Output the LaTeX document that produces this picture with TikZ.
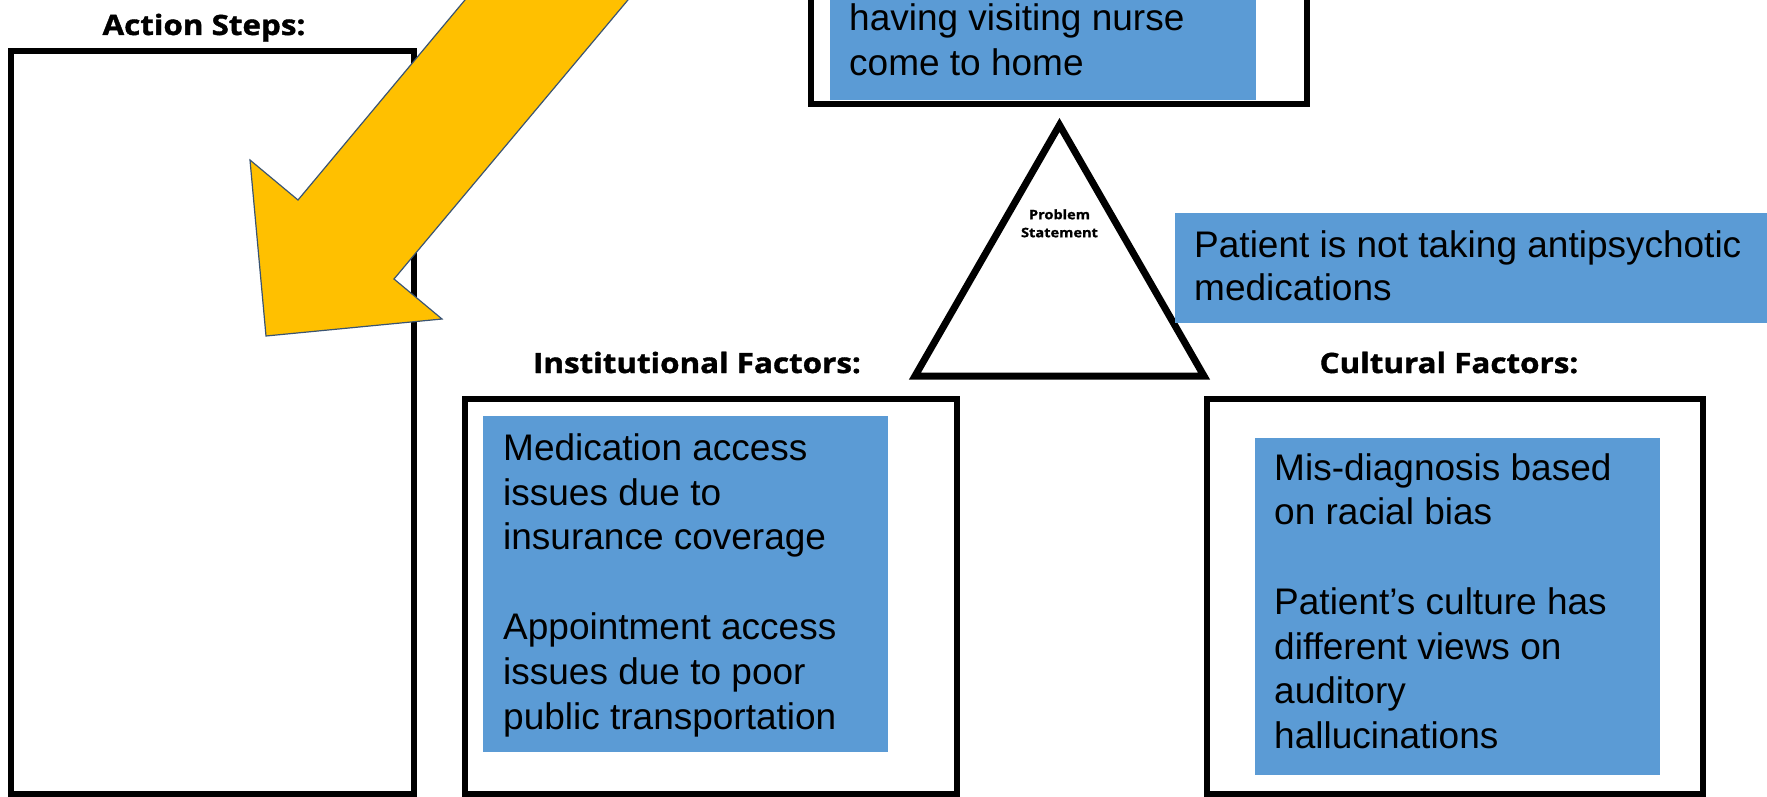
\documentclass[tikz,border=0pt]{standalone}
\usepackage{fontspec}
\setmainfont{Liberation Sans}
\newfontfamily\labelfont[FakeStretch=1.12,BoldFeatures={FakeBold=1.3}]{Open Sans}
\definecolor{cardblue}{RGB}{91,155,213}
\definecolor{arrowgold}{RGB}{255,192,0}
\definecolor{arrowedge}{RGB}{58,84,115}

\begin{document}
\begin{tikzpicture}[x=1pt,y=-1pt,
  frame/.style={draw=black,line width=5.5pt,inner sep=0pt,outer sep=0pt},
  card/.style={fill=cardblue,inner sep=0pt,outer sep=0pt},
  cardtext/.style={anchor=north west,inner sep=0pt,align=left},
  heading/.style={anchor=base,inner sep=0pt,font=\labelfont\bfseries\fontsize{28}{32}\selectfont},
]
\useasboundingbox (0,0) rectangle (1767,797);
\fill[white] (0,0) rectangle (1767,797);

% outlined boxes
\node (actframe)  [frame,minimum width=403,minimum height=743] at (212.5,422.5) {};
\node (instframe) [frame,minimum width=492,minimum height=395] at (711,596.5) {};
\node (cultframe) [frame,minimum width=496,minimum height=395] at (1455,596.5) {};
\node (topframe)  [frame,minimum width=496,minimum height=204] at (1059,2) {};

% blue text cards
\node (topcard)  [card,minimum width=426,minimum height=160] at (1043,20) {};
\node (instcard) [card,minimum width=405,minimum height=336] at (685.5,584) {};
\node (cultcard) [card,minimum width=405,minimum height=337] at (1457.5,606.5) {};

\node (toptext) [cardtext,font=\fontsize{37}{45}\selectfont] at (849,0)
  {\rule{0pt}{30pt}having visiting nurse\\come to home};
\node (insttext) [cardtext,font=\fontsize{37}{44.8}\selectfont] at (503,430)
  {\rule{0pt}{30pt}Medication access\\issues due to\\insurance coverage\\[44.8pt]
   Appointment access\\issues due to poor\\public transportation};
\node (culttext) [cardtext,font=\fontsize{37}{44.7}\selectfont] at (1274,450)
  {\rule{0pt}{30pt}Mis-diagnosis based\\on racial bias\\[44.7pt]
   Patient’s culture has\\different views on\\auditory\\hallucinations};

% problem triangle
\coordinate (apex)  at (1059.5,125);
\coordinate (baseR) at (1204,376);
\coordinate (baseL) at (915,376);
\draw[line width=7pt,line join=miter] (apex) -- (baseR) -- (baseL) -- cycle;
\node (probtext) [anchor=north,inner sep=0pt,align=center,
  font=\labelfont\bfseries\fontsize{13}{18}\selectfont] at (1059.5,209)
  {\rule{0pt}{10pt}Problem\\Statement};

% problem statement card
\node (probcard) [card,minimum width=605,minimum height=110] at (1477.5,268) {};
\node (probcardtext) [cardtext,font=\fontsize{37}{43}\selectfont] at (1194,227)
  {\rule{0pt}{30pt}Patient is not taking antipsychotic\\medications};

% headings
\node (acthead)  [heading] at (204,35)  {Action Steps:};
\node (insthead) [heading] at (697,373) {Institutional Factors:};
\node (culthead) [heading] at (1449,373) {Cultural Factors:};

% pointer arrow
\coordinate (shaftL) at (473.3,-10);
\coordinate (neckL)  at (298,200);
\coordinate (barbL)  at (250,160);
\coordinate (tip)    at (266,336);
\coordinate (barbR)  at (442,319);
\coordinate (neckR)  at (394,279);
\coordinate (shaftR) at (636.3,-10);
\draw[fill=arrowgold,draw=arrowedge,line width=1.2pt,line join=miter]
  (shaftL) -- (neckL) -- (barbL) -- (tip) -- (barbR) -- (neckR) -- (shaftR) -- cycle;
\end{tikzpicture}
\end{document}
